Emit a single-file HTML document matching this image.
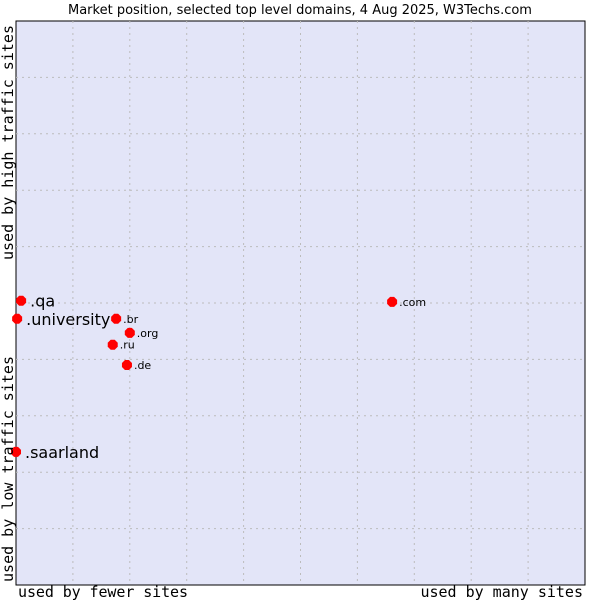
<!DOCTYPE html>
<html><head><meta charset="utf-8"><style>
body{margin:0;background:#fff;width:600px;height:600px;overflow:hidden}
svg{display:block}
</style></head><body>
<svg id="chart" width="600" height="600" xmlns="http://www.w3.org/2000/svg">
<text x="300" y="14" text-anchor="middle" font-family="DejaVu Sans, sans-serif" font-size="13" fill="#000">Market position, selected top level domains, 4 Aug 2025, W3Techs.com</text>
<rect x="16" y="21" width="569" height="564" fill="#e3e5f8" stroke="#000" stroke-width="1"/>
<g id="grid"></g>
<g id="points"></g>
<text x="18" y="597" font-family="DejaVu Sans Mono, monospace" font-size="15" textLength="170">used by fewer sites</text>
<text x="583" y="597" text-anchor="end" font-family="DejaVu Sans Mono, monospace" font-size="15">used by many sites</text>
<text transform="translate(13,260) rotate(-90)" font-family="DejaVu Sans Mono, monospace" font-size="15" textLength="235">used by high traffic sites</text>
<text transform="translate(13,582) rotate(-90)" font-family="DejaVu Sans Mono, monospace" font-size="15" textLength="226">used by low traffic sites</text>
</svg>
<script>
const domains = [".qa", ".university", ".br", ".org", ".ru", ".de", ".com", ".saarland"];
const sitesShare = [0.9, 0.2, 17.6, 20.0, 17.0, 19.5, 66.1, 0.0];
const trafficShare = [50.4, 47.2, 47.2, 44.7, 42.6, 39.0, 50.2, 23.6];
const labelSizes = [16, 16, 11, 11, 11, 11, 11, 16];
const L = 16, T = 21, W = 569, H = 564;
const xs = v => L + v / 100 * W;
const ys = v => T + H - v / 100 * H;
const NS = "http://www.w3.org/2000/svg";
const grid = document.getElementById("grid");
for (let i = 1; i < 10; i++) {
  const vx = document.createElementNS(NS, "line");
  vx.setAttribute("x1", xs(i * 10)); vx.setAttribute("x2", xs(i * 10));
  vx.setAttribute("y1", T); vx.setAttribute("y2", T + H);
  vx.setAttribute("stroke", "#bcbcbc"); vx.setAttribute("stroke-dasharray", "2,4");
  
  
  grid.appendChild(vx);
  const hy = document.createElementNS(NS, "line");
  hy.setAttribute("y1", ys(i * 10)); hy.setAttribute("y2", ys(i * 10));
  hy.setAttribute("x1", L); hy.setAttribute("x2", L + W);
  hy.setAttribute("stroke", "#bcbcbc"); hy.setAttribute("stroke-dasharray", "2,4");
  
  
  grid.appendChild(hy);
}
const pts = document.getElementById("points");
domains.forEach((d, i) => {
  const cx = xs(sitesShare[i]), cy = ys(trafficShare[i]);
  const m = document.createElementNS(NS, "path");
  m.setAttribute("d", `M${cx-2} ${cy-5}L${cx+2} ${cy-5}L${cx+5} ${cy-2}L${cx+5} ${cy+2}L${cx+2} ${cy+5}L${cx-2} ${cy+5}L${cx-5} ${cy+2}L${cx-5} ${cy-2}Z`);
  m.setAttribute("fill", "#ff0000");
  
  
  pts.appendChild(m);
  const t = document.createElementNS(NS, "text");
  const big = labelSizes[i] > 12;
  t.setAttribute("x", cx + (big ? 9 : 7));
  t.setAttribute("y", cy + (big ? 6 : 4));
  t.setAttribute("font-family", "DejaVu Sans, sans-serif");
  t.setAttribute("font-size", labelSizes[i]);
  t.textContent = d;
  
  
  pts.appendChild(t);
});
</script>
</body></html>
